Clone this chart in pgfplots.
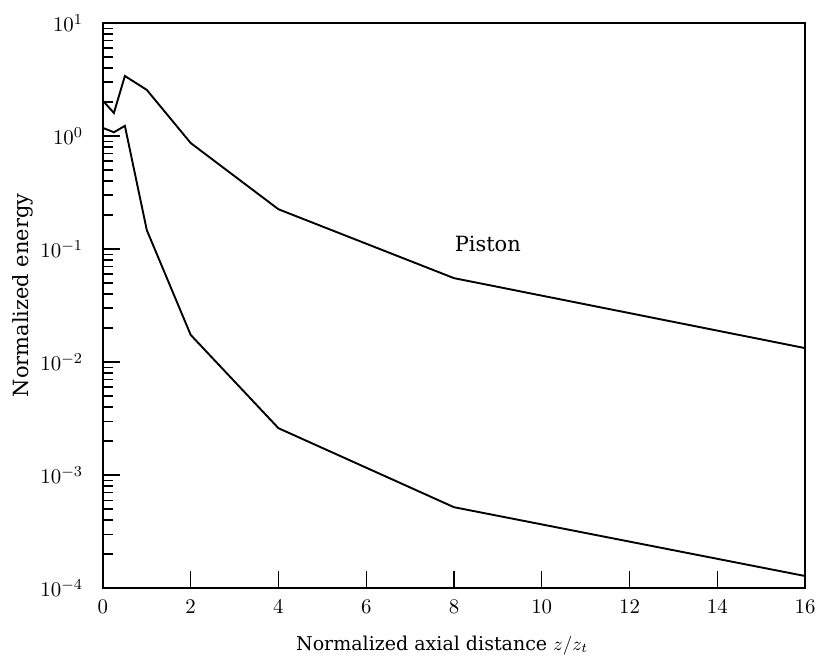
\documentclass[border=0pt]{standalone}
\usepackage{fontspec}
\setmainfont{DejaVu Serif}
\usepackage{pgfplots}
\pgfplotsset{compat=1.18}
\begin{document}
\begin{tikzpicture}
\begin{axis}[
  scale only axis,
  width=369pt, height=297pt,
  xmin=0, xmax=16,
  ymode=log, ymin=1e-4, ymax=10,
  xtick={0,2,4,6,8,10,12,14,16},
  ytick={1e-4,1e-3,1e-2,1e-1,1,10},
  tick align=inside,
  xtick pos=bottom, ytick pos=left,
  major tick length=9pt, minor tick length=5.3pt,
  axis line style={line width=0.9pt},
  every tick/.style={black, line width=0.7pt},
  tick label style={font=\fontsize{11}{13}\selectfont},
  xticklabel style={yshift=-3pt},
  yticklabel style={xshift=-7pt},
  every axis x label/.style={at={(axis description cs:0.483,0)}, yshift=-30pt, anchor=center},
  every axis y label/.style={at={(axis description cs:0,0.518)}, xshift=-42pt, rotate=90, anchor=center},
  xlabel={\fontsize{10}{12}\selectfont Normalized axial distance $z/z_t$},
  ylabel={\fontsize{11}{13}\selectfont Normalized energy},
  clip=false,
]
\addplot[black, line width=1pt] coordinates {
  (0,2.05) (0.25,1.6) (0.5,3.4) (1,2.56) (2,0.867) (4,0.225) (8,0.0553) (16,0.0133)
};
\addplot[black, line width=1pt] coordinates {
  (0,1.18) (0.25,1.08) (0.5,1.23) (1,0.147) (2,0.0174) (4,0.0026) (8,0.00052) (16,0.000128)
};
\node[font=\fontsize{11}{13}\selectfont] at (axis cs:8.77,0.111) {Piston};
\end{axis}
\pgfresetboundingbox
\path[use as bounding box] ([shift={(-54.1pt,-38.4pt)}]current axis.south west) rectangle ([shift={(6.3pt,12.1pt)}]current axis.north east);
\end{tikzpicture}
\end{document}
